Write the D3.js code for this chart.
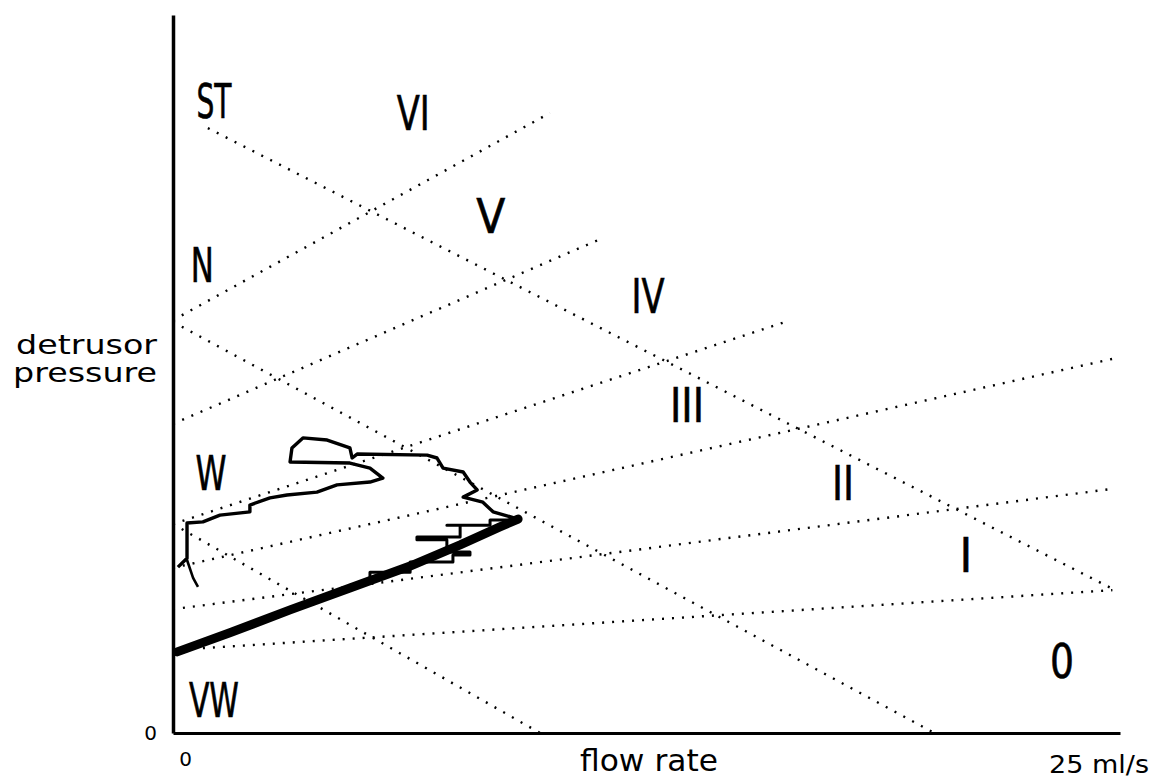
<!DOCTYPE html>
<html>
<head>
<meta charset="utf-8">
<script src="https://unpkg.com/d3@7/dist/d3.min.js"></script>
<style>
  body { margin: 0; background: #fff; }
  svg { display: block; }
</style>
</head>
<body>
<div id="chart"></div>
<script>
// axis extents: flow rate (ml/s) and detrusor pressure (cmH2O)
const flowDomain = [0, 25]
const pressureDomain = [0, 200]

// obstruction grade boundaries 0/I ... V/VI  [flow, pressure] -> [flow, pressure]
const obstructionLines = [
    [[0, 23.1], [24.8, 39.8]],
    [[0, 34.5], [24.8, 68.0]],
    [[0, 46.0], [24.8, 104.2]],
    [[0, 58.2], [16.16, 114.5]],
    [[0, 86.1], [11.22, 137.3]],
    [[0, 115.0], [9.95, 172.7]]
]

// contractility boundaries VW/W, W/N, N/ST
const contractilityLines = [
    [[0, 58.2], [9.69, 0]],
    [[0, 114.5], [20.1, 0]],
    [[0.92, 168.5], [24.87, 39.8]]
]

const gradeLabels = ['0', 'I', 'II', 'III', 'IV', 'V', 'VI']
const gradeLabelAt = [[23.47, 15.3], [20.93, 44.8], [17.69, 64.9], [13.57, 86.6], [12.54, 117.0], [8.39, 139.3], [6.34, 168.0]]

const strengthLabels = ['VW', 'W', 'N', 'ST']
const strengthLabelAt = [[1.08, 4.5], [1.0, 67.7], [0.77, 125.6], [1.08, 171.3]]

// pressure-flow trace: filling up to max flow, then the way back
const traceRise = [[0.11, 22.6], [1.50, 27.9], [3.09, 34.3], [4.67, 40.4], [6.26, 46.5], [7.58, 52.4], [8.63, 57.4], [9.11, 59.6]]
const traceBack = [
    [9.11, 59.6], [8.45, 61.6], [8.18, 64.3], [7.66, 65.7], [8.03, 67.7], [7.84, 69.9],
    [7.66, 72.7], [7.13, 73.8], [6.97, 76.6], [6.71, 77.4], [4.86, 77.7], [4.73, 76.6],
    [4.67, 79.4], [4.07, 81.6], [3.43, 82.2], [3.14, 79.4], [3.09, 75.5], [4.67, 75.2],
    [5.20, 73.8], [5.54, 71.0], [5.20, 69.9], [4.33, 69.1], [3.80, 67.1], [3.01, 66.3],
    [2.56, 65.5], [2.03, 63.5], [2.03, 61.6], [1.24, 60.7], [0.79, 58.8], [0.37, 58.5],
    [0.37, 48.7], [0.13, 46.2]
]
const traceBranch = [[0.37, 48.2], [0.53, 43.2], [0.66, 40.7]]
const traceJitter = [
    [9.08, 59.3], [8.37, 57.9], [7.23, 57.9], [7.58, 54.6], [6.44, 53.8],
    [7.23, 50.4], [7.84, 49.6], [7.39, 47.6], [6.26, 44.8], [5.20, 42.1]
]

// ink widths of the zone labels (the original type is very narrow)
const labelWidth = { '0': 24, 'II': 22, 'III': 34, 'IV': 33, 'V': 29, 'VI': 33, 'VW': 50, 'W': 31, 'N': 23, 'ST': 35 }

const width = 1152
const height = 779

const svg = d3.select('#chart').append('svg')
    .attr('width', width)
    .attr('height', height)

svg.append('rect').attr('width', width).attr('height', height).attr('fill', '#fff')

const x = d3.scaleLinear().domain(flowDomain).range([173, 1120])
const y = d3.scaleLinear().domain(pressureDomain).range([733, 15])

const line = d3.line().x(d => x(d[0])).y(d => y(d[1]))

// dotted nomogram lines
svg.append('g')
    .selectAll('path')
    .data(obstructionLines.concat(contractilityLines))
    .join('path')
    .attr('d', line)
    .attr('fill', 'none')
    .attr('stroke', '#000')
    .attr('stroke-width', 2.4)
    .attr('stroke-dasharray', '2 8')

// trace
const trace = svg.append('g').attr('fill', 'none').attr('stroke', '#000')
    .attr('stroke-linejoin', 'round')

trace.append('path').attr('d', line(traceRise)).attr('stroke-width', 9).attr('stroke-linecap', 'round')
trace.append('path').attr('d', line.curve(d3.curveStepAfter)(traceJitter)).attr('stroke-width', 3)
line.curve(d3.curveLinear)
trace.append('path').attr('d', line(traceBack)).attr('stroke-width', 3.4)
trace.append('path').attr('d', line(traceBranch)).attr('stroke-width', 2.6)

// zone labels
const zoneFont = '"DejaVu Sans Condensed", "DejaVu Sans", sans-serif'

function addLabels(names, at) {
    svg.append('g')
        .selectAll('text')
        .data(names)
        .join('text')
        .attr('x', (d, i) => x(at[i][0]))
        .attr('y', (d, i) => y(at[i][1]))
        .attr('text-anchor', 'middle')
        .attr('font-family', zoneFont)
        .attr('font-size', 48)
        .attr('fill', '#000')
        .attr('stroke', '#000')
        .attr('stroke-width', 0.6)
        .each(function (d) {
            if (labelWidth[d]) {
                d3.select(this).attr('textLength', labelWidth[d]).attr('lengthAdjust', 'spacingAndGlyphs')
            }
        })
        .text(d => d)
}

addLabels(gradeLabels, gradeLabelAt)
addLabels(strengthLabels, strengthLabelAt)

// axes
const textFont = '"DejaVu Sans", Verdana, sans-serif'

const xAxis = svg.append('g')
    .attr('transform', `translate(0,${y(0)})`)
    .call(d3.axisBottom(x).tickValues([0]).tickSize(0).tickSizeOuter(0).tickPadding(19))

const yAxis = svg.append('g')
    .attr('transform', `translate(${x(0)},0)`)
    .call(d3.axisLeft(y).tickValues([0]).tickSize(0).tickSizeOuter(0).tickPadding(16))

xAxis.select('.domain').attr('stroke', '#000').attr('stroke-width', 3)
yAxis.select('.domain').attr('stroke', '#000').attr('stroke-width', 3.5)

svg.selectAll('.tick text')
    .style('font-size', '20px')
    .style('font-family', textFont)
    .attr('fill', '#000')
xAxis.selectAll('.tick text').attr('x', 12)

svg.append('text')
    .attr('x', 649)
    .attr('y', 771)
    .attr('text-anchor', 'middle')
    .attr('font-family', textFont)
    .attr('font-size', 30)
    .attr('textLength', 138)
    .attr('lengthAdjust', 'spacingAndGlyphs')
    .text('flow rate')

svg.append('text')
    .attr('x', 1049)
    .attr('y', 773)
    .attr('font-family', textFont)
    .attr('font-size', 24)
    .attr('textLength', 100)
    .attr('lengthAdjust', 'spacingAndGlyphs')
    .text('25 ml/s')

const yLabel = svg.append('text')
    .attr('text-anchor', 'end')
    .attr('font-family', textFont)
    .attr('font-size', 27)

yLabel.append('tspan').attr('x', 157).attr('y', 354).attr('textLength', 141).attr('lengthAdjust', 'spacingAndGlyphs').text('detrusor')
yLabel.append('tspan').attr('x', 157).attr('y', 382).attr('textLength', 144).attr('lengthAdjust', 'spacingAndGlyphs').text('pressure')
</script>
</body>
</html>
